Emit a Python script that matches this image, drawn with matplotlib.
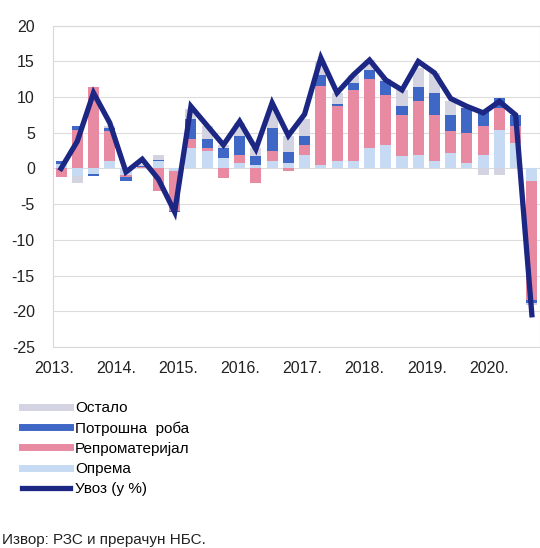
import numpy as np
import matplotlib
matplotlib.use('Agg')
import matplotlib.pyplot as plt
from matplotlib.lines import Line2D

plt.rcParams['font.family'] = ['Liberation Sans', 'DejaVu Sans']
plt.rcParams['axes.unicode_minus'] = False

# quarterly contributions, 2013 Q1 - 2020 Q2 (pp)
years = ['2013.', '2014.', '2015.', '2016.', '2017.', '2018.', '2019.', '2020.']
oprema = [0.6, -1.1, -0.8, 1.0, -0.9, 0.1, 1.0, -0.3, 2.9, 2.4, 1.4, 0.7, 0.5, 1.0, 0.7,
          1.9, 0.5, 1.0, 1.0, 2.9, 3.3, 1.7, 1.9, 1.0, 2.1, 0.7, 1.9, 5.4, 3.6, -1.8]
repro = [-1.2, 5.4, 11.4, 4.2, -0.3, 0.1, -3.2, -5.6, 1.2, 0.5, -1.4, 1.2, -2.1, 1.4, -0.3,
         1.4, 11.0, 7.7, 10.0, 9.6, 7.0, 5.8, 7.5, 6.5, 3.1, 4.3, 4.0, 3.1, 2.3, -16.6]
potrosna = [0.4, 0.5, -0.3, 0.5, -0.6, 0.2, 0.2, -0.2, 2.8, 1.2, 1.4, 2.6, 1.2, 3.3, 1.6,
            1.2, 1.6, 0.3, 1.0, 1.3, 1.9, 1.2, 2.0, 3.1, 2.3, 3.5, 2.1, 1.4, 1.6, -0.5]
ostalo = [0.0, -0.9, 0.0, 0.3, 0.0, 0.2, 0.7, 0.0, 1.5, 1.9, 0.5, 1.9, 1.2, 2.7, 2.3,
          2.4, 2.0, 1.6, 1.1, 1.4, 0.4, 2.3, 2.7, 2.8, 1.9, 0.2, -0.9, -0.9, 0.0, -0.3]
uvoz = [0.0, 3.8, 10.6, 6.4, -0.5, 1.3, -1.5, -6.1, 8.7, 6.0, 3.3, 6.6, 2.7, 9.2, 4.6,
        7.6, 15.5, 10.6, 13.1, 15.2, 12.4, 11.0, 15.0, 13.4, 9.8, 8.7, 7.8, 9.4, 7.5, -20.5]

series = [('Опрема', oprema, '#c6daf3'),
          ('Репроматеријал', repro, '#e98aa3'),
          ('Потрошна роба', potrosna, '#3f67c6'),
          ('Остало', ostalo, '#d3d3e2')]
line_color = '#1c2683'

fig = plt.figure(figsize=(5.4, 5.48), dpi=100)
ax = fig.add_axes([0.098, 0.367, 0.902, 0.586])

x = np.arange(len(uvoz))
pos_base = np.zeros(len(x))
neg_base = np.zeros(len(x))
for name, vals, col in series:
    v = np.array(vals)
    base = np.where(v >= 0, pos_base, neg_base)
    ax.bar(x, v, bottom=base, width=0.68, color=col, zorder=2)
    pos_base = pos_base + np.where(v >= 0, v, 0)
    neg_base = neg_base + np.where(v < 0, v, 0)

ax.plot(x, uvoz, color=line_color, lw=3.8, zorder=3, solid_joinstyle='miter')

ax.set_xlim(-0.5, 29.5)
ax.set_ylim(-25, 20)
ax.set_yticks(np.arange(-25, 21, 5))
ax.grid(axis='y', color='#dcdcdc', lw=0.8, zorder=0)
ax.set_xticks(np.arange(len(years)) * 3.83 - 0.45)
ax.set_xticklabels(years)
ax.tick_params(axis='both', length=0, labelsize=11.5, colors='#222222')
ax.tick_params(axis='y', pad=13)
ax.tick_params(axis='x', pad=10)
for s in ax.spines.values():
    s.set_color('#d8d8d8')
    s.set_linewidth(0.8)

handles = [Line2D([], [], color='#d3d3e2', lw=5),
           Line2D([], [], color='#3f67c6', lw=5),
           Line2D([], [], color='#e98aa3', lw=5),
           Line2D([], [], color='#c6daf3', lw=5),
           Line2D([], [], color=line_color, lw=3.8)]
labels = ['Остало', 'Потрошна  роба', 'Репроматеријал', 'Опрема', 'Увоз (у %)']
fig.legend(handles, labels, loc='upper left', bbox_to_anchor=(0.04, 0.268),
           frameon=False, fontsize=11, handlelength=3.2, handletextpad=0.3,
           labelspacing=0.4, borderpad=0, borderaxespad=0)

fig.text(0.004, 0.008, 'Извор: РЗС и прерачун НБС.', fontsize=11, color='#222222')

fig.savefig('out.png', dpi=100)
